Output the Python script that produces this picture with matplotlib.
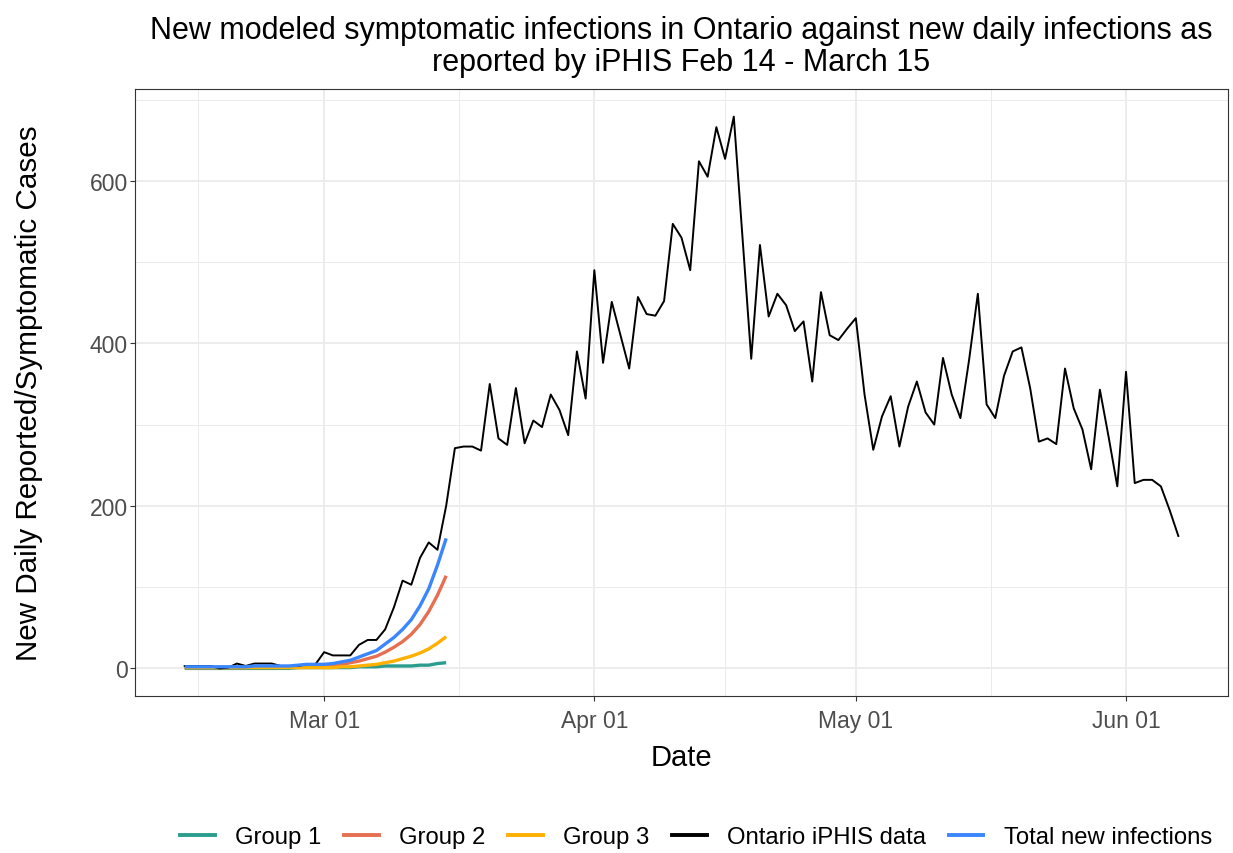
import numpy as np
import pandas as pd
import matplotlib
matplotlib.use("Agg")
import matplotlib.pyplot as plt
import matplotlib.dates as mdates
from matplotlib.lines import Line2D

plt.rcParams['font.family'] = ['Liberation Sans', 'DejaVu Sans']

# ---------------- data ----------------
iphis_start = "2020-02-14"
iphis_cases = [
    3, 3, 3, 3, 0, 1, 6, 3, 6, 6, 6, 3, 3, 3, 5, 5,                       # Feb 14-29
    20, 16, 16, 16, 29, 35, 35, 48, 75, 108, 103, 136, 155, 146, 200,       # Mar 01-15
    271, 273, 273, 268, 350, 283, 275, 345, 277, 305, 297, 337, 318, 287,   # Mar 16-29
    390, 332,                                                               # Mar 30-31
    490, 376, 451, 410, 369, 457, 436, 434, 452, 547, 530, 490, 624, 605,   # Apr 01-14
    666, 627, 679, 530, 381, 521, 433, 461, 447, 415, 427, 353, 463, 410,   # Apr 15-28
    404, 418,                                                               # Apr 29-30
    431, 337, 269, 310, 335, 273, 322, 353, 315, 300, 382, 337, 308, 380,   # May 01-14
    461, 325, 308, 360, 390, 395, 345, 279, 283, 276, 369, 320, 294, 245,   # May 15-28
    343, 285, 224,                                                          # May 29-31
    365, 228, 232, 232, 224, 195, 163,                                      # Jun 01-07
]

model_start = "2020-02-14"
group1 = [0, 0, 0, 0, 0, 0, 0, 0, 0, 0, 0, 0, 0, 1, 1, 1,
          1, 1, 1, 1, 2, 2, 2, 3, 3, 3, 3, 4, 4, 6, 7]
group2 = [1, 1, 1, 1, 1, 1, 1, 1, 2, 2, 2, 2, 2, 2, 3, 3,
          3, 4, 5, 7, 9, 12, 15, 20, 26, 33, 42, 54, 70, 90, 114]
group3 = [1, 1, 1, 1, 1, 1, 1, 1, 1, 1, 1, 1, 1, 1, 1, 1,
          1, 1, 2, 2, 3, 4, 5, 7, 9, 12, 15, 19, 24, 31, 39]
total = [a + b + c for a, b, c in zip(group1, group2, group3)]

series_labels = ["Group 1", "Group 2", "Group 3", "Ontario iPHIS data", "Total new infections"]
series_colors = ["#2A9D8F", "#E76F51", "#FFB000", "#000000", "#3A86FF"]

title = ("New modeled symptomatic infections in Ontario against new daily infections as\n"
         "reported by iPHIS Feb 14 - March 15")
xlabel = "Date"
ylabel = "New Daily Reported/Symptomatic Cases"
yticks = [0, 200, 400, 600]
yminor = [100, 300, 500, 700]

# ---------------- plot ----------------
iphis_dates = pd.date_range(iphis_start, periods=len(iphis_cases), freq="D")
model_dates = pd.date_range(model_start, periods=len(group1), freq="D")

fig = plt.figure(figsize=(12.33, 8.54), dpi=100)
ax = fig.add_axes([135 / 1233, 1 - 697 / 854, (1228 - 135) / 1233, (697 - 90) / 854])

grid_col = "#EBEBEB"
model_series = [group1, group2, group3]
for vals, col in zip(model_series, series_colors[:3]):
    ax.plot(model_dates, vals, color=col, lw=2.4, solid_capstyle="butt", zorder=3)
ax.plot(iphis_dates, iphis_cases, color="black", lw=1.4, zorder=4)
ax.plot(model_dates, total, color=series_colors[4], lw=2.4, solid_capstyle="butt", zorder=5)

# limits with ggplot-like 5% expansion
xmin = mdates.date2num(iphis_dates[0])
xmax = mdates.date2num(iphis_dates[-1])
xr = xmax - xmin
lo, hi = xmin - 0.05 * xr, xmax + 0.05 * xr
ymax = max(iphis_cases)

# ticks
ax.xaxis.set_major_locator(mdates.MonthLocator(bymonthday=1))
ax.xaxis.set_major_formatter(mdates.DateFormatter("%b %d"))
majors = pd.date_range("2020-02-01", "2020-07-01", freq="MS")
mnums = mdates.date2num(majors)
mids = (mnums[:-1] + mnums[1:]) / 2
ax.set_xticks([m for m in mids if lo <= m <= hi], minor=True)
ax.set_yticks(yticks)
ax.set_yticks(yminor, minor=True)
ax.set_xlim(lo, hi)
ax.set_ylim(-0.05 * ymax, ymax * 1.05)

ax.grid(which="major", color=grid_col, lw=1.3, zorder=0)
ax.grid(which="minor", color=grid_col, lw=0.7, zorder=0)
ax.set_axisbelow(True)

for sp in ax.spines.values():
    sp.set_color("#333333")
    sp.set_linewidth(0.8)
ax.tick_params(which="major", length=3.5, width=0.8, color="#333333",
               labelcolor="#4D4D4D", labelsize=16.5)
ax.tick_params(axis="x", which="major", pad=6)
ax.tick_params(axis="y", which="major", pad=1.5)
ax.tick_params(which="minor", length=0)

ax.set_xlabel(xlabel, fontsize=21, color="black", labelpad=8)
ax.set_ylabel(ylabel, fontsize=21.3, color="black", labelpad=34)
ax.set_title(title, fontsize=22, color="black", pad=14, linespacing=1.05)

handles = [Line2D([0], [0], color=c, lw=2.8) for c in series_colors]
fig.legend(handles, series_labels, loc="center", bbox_to_anchor=(696 / 1233, 1 - 838 / 854),
           ncol=5, frameon=False, fontsize=17.2, handlelength=1.45, handletextpad=0.85,
           columnspacing=0.95)

fig.savefig("out.png", dpi=100)
